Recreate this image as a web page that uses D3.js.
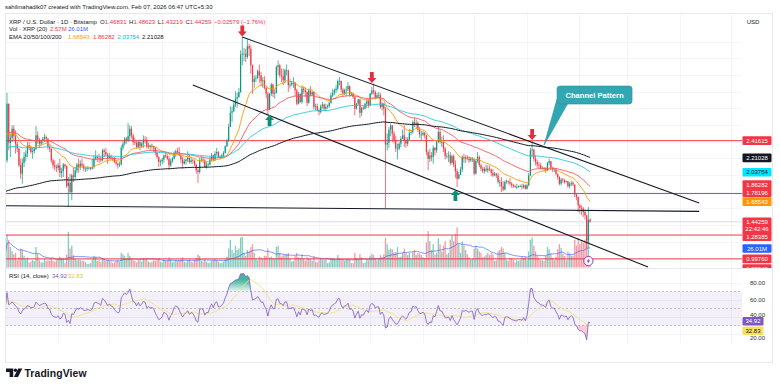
<!DOCTYPE html>
<html>
<head>
<meta charset="utf-8">
<script src="https://cdn.jsdelivr.net/npm/d3@7"></script>
<style>
html, body { margin: 0; padding: 0; background: #fff; }
svg { display: block; font-family: "Liberation Sans", Arial, sans-serif; }
</style>
</head>
<body>
<svg id="chart" width="780" height="388"></svg>
<script>
// XRP/USD daily, Bitstamp, 2025-03-01 .. 2026-02-07
const firstOpen = 2.14;
const closes = [
  2.18,2.86,2.39,2.45,2.56,2.47,2.38,2.32,2.12,2.02,2.15,2.22,2.26,2.36,2.33,2.28,2.29,2.32,2.48,2.43,2.38,2.41,2.44,2.46,2.44,2.34,2.32,2.18,2.12,2.10,2.09, // mar
  2.12,2.03,2.05,2.13,2.11,1.87,1.91,1.80,2.00,1.98,2.06,2.13,2.10,2.14,2.12,2.08,2.08,2.09,2.09,2.08,2.10,2.20,2.22,2.21,2.20,2.18,2.30,2.28,2.25,2.21, // apr
  2.23,2.21,2.20,2.16,2.14,2.12,2.13,2.33,2.38,2.44,2.42,2.47,2.56,2.48,2.40,2.39,2.34,2.40,2.35,2.38,2.43,2.42,2.34,2.36,2.34,2.35,2.33,2.27,2.22,2.16,2.17, // may
  2.19,2.24,2.23,2.20,2.12,2.17,2.20,2.27,2.29,2.28,2.24,2.19,2.14,2.17,2.19,2.21,2.16,2.18,2.17,2.13,2.06,2.04,2.18,2.19,2.18,2.10,2.13,2.13,2.19,2.24, // jun
  2.19,2.26,2.28,2.22,2.22,2.24,2.27,2.35,2.42,2.58,2.75,2.77,2.85,2.92,2.94,3.00,3.45,3.46,3.46,3.42,3.55,3.52,3.32,3.12,3.16,3.17,3.25,3.20,3.13,3.14,3.05, // jul
  2.98,2.79,2.98,3.09,2.98,2.99,3.30,3.32,3.20,3.19,3.14,3.26,3.26,3.08,3.09,3.11,3.11,3.02,2.86,2.98,2.88,3.04,3.02,3.00,2.87,3.02,2.97,3.00,2.82,2.83,2.78, // aug
  2.76,2.83,2.85,2.80,2.82,2.83,2.87,2.96,2.99,3.02,3.04,3.13,3.13,3.03,2.98,3.02,3.03,3.07,2.97,2.98,2.94,2.80,2.86,2.91,2.75,2.81,2.80,2.86,2.89,2.84, // sep
  2.98,3.02,3.00,2.94,2.96,2.96,2.82,2.86,2.80,2.37,2.39,2.55,2.60,2.50,2.42,2.32,2.32,2.38,2.44,2.48,2.42,2.38,2.43,2.51,2.52,2.64,2.62,2.63,2.55,2.49,2.49, // oct
  2.51,2.48,2.28,2.20,2.24,2.22,2.33,2.30,2.40,2.52,2.40,2.40,2.32,2.23,2.23,2.24,2.15,2.23,2.13,2.05,1.96,2.01,2.07,2.22,2.20,2.22,2.20,2.18,2.20,2.20, // nov
  2.02,2.17,2.22,2.12,2.08,2.05,2.08,2.06,2.08,2.07,2.03,2.00,2.02,2.00,1.92,1.92,1.87,1.83,1.92,1.93,1.92,1.90,1.88,1.87,1.86,1.86,1.87,1.87,1.86,1.88,1.84, // dec
  1.88,2.00,2.30,2.31,2.20,2.16,2.13,2.12,2.09,2.09,2.08,2.06,2.15,2.17,2.09,2.07,2.07,2.02,1.98,1.90,1.95,1.94,1.92,1.93,1.87,1.90,1.91,1.89,1.77,1.74,1.64, // jan
  1.61,1.60,1.56,1.52,1.22,1.468,1.44259 // feb
];
const highs = [
  2.22,2.99,2.86,2.50,2.60,2.60,2.54,2.40,2.33,2.20,2.20,2.28,2.30,2.40,2.40,2.36,2.33,2.34,2.59,2.53,2.45,2.42,2.46,2.50,2.48,2.45,2.37,2.33,2.20,2.18,2.13,
  2.15,2.20,2.09,2.15,2.14,2.12,1.98,2.02,2.02,2.09,2.10,2.15,2.20,2.18,2.20,2.14,2.10,2.11,2.10,2.10,2.20,2.24,2.30,2.24,2.26,2.22,2.32,2.32,2.33,2.27,
  2.27,2.25,2.22,2.22,2.18,2.15,2.16,2.36,2.41,2.46,2.46,2.63,2.60,2.59,2.50,2.45,2.42,2.42,2.43,2.40,2.48,2.47,2.46,2.39,2.37,2.38,2.35,2.34,2.29,2.23,2.19,
  2.21,2.25,2.28,2.26,2.23,2.20,2.22,2.29,2.31,2.33,2.34,2.26,2.22,2.20,2.20,2.29,2.25,2.21,2.20,2.19,2.14,2.08,2.21,2.23,2.22,2.20,2.16,2.15,2.22,2.27,
  2.25,2.29,2.33,2.29,2.24,2.26,2.29,2.36,2.44,2.62,2.83,2.82,2.90,3.01,2.99,3.05,3.50,3.66,3.53,3.52,3.63,3.58,3.56,3.33,3.20,3.20,3.27,3.33,3.24,3.18,3.19,
  3.06,3.00,2.99,3.11,3.10,3.03,3.32,3.38,3.34,3.28,3.28,3.28,3.33,3.27,3.16,3.13,3.18,3.12,3.04,3.00,2.98,3.08,3.07,3.05,3.01,3.04,3.07,3.01,3.00,2.86,2.86,
  2.80,2.85,2.88,2.86,2.86,2.85,2.89,2.99,3.04,3.04,3.08,3.15,3.18,3.14,3.05,3.04,3.07,3.12,3.08,3.00,2.99,2.95,2.87,2.92,2.92,2.82,2.83,2.87,2.92,2.92,
  2.99,3.06,3.10,3.02,2.99,3.00,2.99,2.88,2.87,2.82,2.50,2.58,2.62,2.60,2.53,2.47,2.38,2.40,2.47,2.55,2.60,2.46,2.46,2.56,2.55,2.66,2.69,2.67,2.65,2.58,2.53,
  2.53,2.52,2.48,2.30,2.32,2.28,2.36,2.34,2.42,2.58,2.55,2.46,2.48,2.34,2.27,2.29,2.28,2.25,2.25,2.18,2.08,2.04,2.10,2.24,2.26,2.24,2.24,2.23,2.22,2.22,
  2.20,2.19,2.28,2.24,2.14,2.10,2.10,2.13,2.12,2.12,2.08,2.08,2.04,2.03,2.03,1.95,1.98,1.93,1.94,1.95,1.94,1.97,1.92,1.90,1.89,1.90,1.88,1.89,1.90,1.90,1.89,
  1.90,2.03,2.33,2.41,2.32,2.24,2.19,2.16,2.15,2.11,2.10,2.10,2.16,2.20,2.17,2.10,2.09,2.08,2.02,1.99,1.97,1.97,1.96,1.94,1.93,1.92,1.93,1.93,1.89,1.78,1.75,
  1.66,1.64,1.62,1.59,1.52,1.62,1.48623
];
const lows = [
  2.08,2.15,2.30,2.22,2.40,2.42,2.26,2.28,2.10,1.96,1.90,2.10,2.17,2.22,2.30,2.26,2.20,2.26,2.30,2.38,2.33,2.35,2.38,2.40,2.40,2.31,2.28,2.15,2.08,2.06,2.04,
  2.06,1.98,1.97,1.98,2.08,1.85,1.62,1.78,1.70,1.92,1.95,2.03,2.03,2.06,2.09,2.05,2.04,2.05,2.07,2.06,2.07,2.08,2.18,2.16,2.15,2.16,2.17,2.22,2.23,2.14,
  2.19,2.19,2.17,2.15,2.12,2.08,2.10,2.12,2.30,2.36,2.38,2.40,2.41,2.44,2.36,2.36,2.32,2.32,2.30,2.33,2.33,2.38,2.32,2.32,2.30,2.32,2.28,2.24,2.20,2.10,2.11,
  2.13,2.15,2.21,2.18,2.07,2.10,2.15,2.19,2.22,2.25,2.23,2.15,2.08,2.13,2.13,2.16,2.14,2.14,2.14,2.11,2.02,1.91,2.02,2.16,2.15,2.09,2.08,2.11,2.12,2.17,
  2.17,2.17,2.24,2.21,2.20,2.21,2.22,2.26,2.34,2.40,2.58,2.64,2.76,2.82,2.81,2.93,2.99,3.32,3.37,3.36,3.40,3.43,3.22,2.98,3.05,3.12,3.16,3.11,3.07,3.05,3.03,
  2.93,2.72,2.78,2.95,2.94,2.92,2.98,3.20,3.17,3.12,3.08,3.10,3.20,3.00,3.04,3.07,3.05,2.95,2.84,2.85,2.87,2.86,2.98,2.94,2.83,2.86,2.95,2.95,2.79,2.78,2.77,
  2.72,2.74,2.80,2.77,2.77,2.80,2.81,2.86,2.94,2.96,2.99,3.02,3.08,3.00,2.95,2.96,2.95,3.01,2.94,2.95,2.92,2.72,2.79,2.84,2.69,2.71,2.78,2.79,2.81,2.81,
  2.83,2.96,2.97,2.91,2.92,2.92,2.80,2.78,2.72,1.61,2.30,2.33,2.47,2.40,2.38,2.28,2.19,2.30,2.34,2.43,2.34,2.33,2.35,2.42,2.48,2.50,2.58,2.56,2.52,2.45,2.42,
  2.47,2.44,2.24,2.06,2.16,2.17,2.14,2.24,2.27,2.39,2.38,2.34,2.28,2.19,2.20,2.16,2.12,2.13,2.10,1.97,1.86,1.95,2.00,2.04,2.15,2.15,2.18,2.15,2.16,2.16,
  2.00,2.01,2.15,2.10,2.05,2.03,2.02,2.04,2.03,2.05,1.99,1.98,1.99,1.97,1.90,1.86,1.80,1.81,1.82,1.90,1.89,1.88,1.85,1.85,1.85,1.84,1.85,1.86,1.83,1.84,1.83,
  1.83,1.87,1.99,2.22,2.17,2.12,2.09,2.08,2.07,2.07,2.05,2.03,2.05,2.12,2.06,2.04,2.04,2.00,1.95,1.88,1.88,1.91,1.90,1.91,1.85,1.84,1.87,1.87,1.74,1.70,1.56,
  1.54,1.52,1.50,1.47,1.12,1.19,1.43219
];
// volume in millions of XRP
const volumes = [
  20,45,38,28,22,18,20,10,14,26,24,16,11,14,7,8,10,9,28,18,10,7,7,12,9,10,9,13,9,8,10,
  12,15,13,12,6,18,49,26,30,17,12,10,11,10,9,9,7,5,5,6,11,16,14,9,10,7,13,11,9,10,
  9,8,6,7,9,10,8,20,18,16,11,20,16,12,10,9,7,10,11,8,13,11,12,8,7,8,10,9,10,13,8,
  7,11,9,9,14,11,7,8,10,9,10,11,14,8,7,10,11,8,7,10,13,18,16,9,8,10,8,6,7,9,
  10,11,10,8,6,6,8,11,15,26,38,24,20,30,24,26,41,42,20,16,24,22,28,32,20,12,10,15,14,12,16,
  16,26,14,15,13,12,28,30,20,15,17,18,18,20,12,8,9,16,20,14,13,18,12,9,14,13,12,9,16,8,7,
  10,12,10,10,11,6,7,13,12,11,10,17,12,10,11,9,11,12,11,6,6,20,13,11,18,14,6,7,11,10,
  16,19,17,12,10,13,17,14,18,41,32,24,26,25,21,21,28,14,15,20,26,20,17,20,12,21,24,17,20,19,17,
  14,13,34,50,36,24,32,18,20,40,32,22,30,36,18,20,38,44,36,46,55,32,20,36,30,24,18,14,11,12,
  26,30,26,22,20,14,15,17,20,17,20,18,9,10,22,24,28,26,20,10,9,13,13,10,7,10,9,10,15,13,15,
  10,22,38,41,30,22,16,12,10,10,9,16,28,25,19,13,10,15,25,32,27,19,16,10,22,19,16,16,38,30,40,
  32,36,34,38,39,40,2.57
];

const lastOHLC = [1.46831, 1.48623, 1.43219, 1.44259];
const lastChange = "\u22120.02579 (\u22121.76%)";
const volLegend = [2.57, 26.01];
const emaLengths = [20, 50, 100, 200];
const emaSeeds = [2.50, 2.52, 2.33, 1.80];
const emaLast = [1.68543, 1.86282, 2.03754, 2.21028];
const rsiLast = [34.92, 32.83];
const levels = [2.41615, 1.78196, 1.28385, 0.9976, 0.8824];
const gridTicks = [3.6, 3.4, 3.2, 3.0, 2.8, 2.6, 2.4, 2.2, 2.0, 1.8, 1.6, 1.4, 1.2, 1.0];
const scaleTicks = [3.6, 3.4, 3.2, 3.0, 2.8, 2.6, 1.6, 1.2];
const rsiTicks = [80, 60, 40, 20];
const countdown = "22:42:46";

// drawings: [date, price]
const channelUpper = [["2025-07-18", 3.66], ["2026-04-12", 1.668]];
const channelLower = [["2025-06-19", 3.084], ["2026-03-13", 0.90]];
const flatLine = [["2025-03-01", 1.636], ["2026-04-12", 1.568]];
const arrowsDown = [["2025-07-18", 3.665], ["2025-10-02", 3.108], ["2026-01-04", 2.424]];
const arrowsUp = [["2025-08-03", 2.724], ["2025-11-20", 1.824]];
const calloutTip = ["2026-01-11", 2.364];
const eventDate = "2026-02-06";

const INK = "#131722", UP = "#089981", DOWN = "#f23645";
const EMA_COL = ["#ff9800", "#f7525f", "#26c6da", "#131722"];
const P = { l: 6, r: 742, top: 14, mainB: 268, rsiT: 269, rsiB: 343 };

const svg = d3.select("#chart");
const pd = d3.utcParse("%Y-%m-%d");
const start = new Date(Date.UTC(2025, 2, 1));

const x = d3.scaleUtc().domain([start, new Date(Date.UTC(2026, 4, 1))]).range([5.3, 731.6]);
const y = d3.scaleLinear().domain([3.6, 1.6]).range([42, 208.7]);
const vy = d3.scaleLinear().domain([0, 100]).range([267.5, 194.5]);
const ry = d3.scaleLinear().domain([80, 20]).range([283, 334]);

const n = Math.min(closes.length, highs.length, lows.length, volumes.length);
const bars = d3.range(n).map(i => {
  const c = closes[i];
  const o = i === 0 ? firstOpen : (i === n - 1 ? lastOHLC[0] : closes[i - 1]);
  return { date: d3.utcDay.offset(start, i), o, c,
    h: Math.max(highs[i], o, c), l: Math.min(lows[i], o, c), v: volumes[i] };
});

const emas = emaLengths.map((len, k) => {
  const a = 2 / (len + 1);
  let e = emaSeeds[k];
  return bars.map(b => { e += a * (b.c - e); return { date: b.date, v: e }; });
});

let ag = 0.05, al = 0.05;
const rsi = bars.map((b, i) => {
  const ch = b.c - (i === 0 ? firstOpen : bars[i - 1].c);
  ag = (ag * 13 + Math.max(ch, 0)) / 14;
  al = (al * 13 + Math.max(-ch, 0)) / 14;
  return { date: b.date, v: 100 - 100 / (1 + ag / al) };
});
const rsiMa = rsi.map((r, i) => ({ date: r.date, v: d3.mean(rsi.slice(Math.max(0, i - 13), i + 1), d => d.v) }));
const volMa = bars.map((b, i) => ({ date: b.date, v: d3.mean(bars.slice(Math.max(0, i - 19), i + 1), d => d.v) }));

// defs
const defs = svg.append("defs");
defs.append("clipPath").attr("id", "cMain").append("rect")
  .attr("x", P.l).attr("y", P.top).attr("width", P.r - P.l).attr("height", P.mainB - P.top);
defs.append("clipPath").attr("id", "cRsi").append("rect")
  .attr("x", P.l).attr("y", P.rsiT).attr("width", P.r - P.l).attr("height", P.rsiB - P.rsiT);
defs.append("clipPath").attr("id", "cTime").append("rect")
  .attr("x", 5).attr("y", P.rsiB).attr("width", 767).attr("height", 20);
defs.append("clipPath").attr("id", "cScale").append("rect")
  .attr("x", P.r).attr("y", P.top).attr("width", 31).attr("height", P.mainB - P.top);
const gr = defs.append("linearGradient").attr("id", "obFill")
  .attr("gradientUnits", "userSpaceOnUse").attr("x1", 0).attr("x2", 0).attr("y1", ry(84)).attr("y2", ry(70));
gr.append("stop").attr("offset", 0).attr("stop-color", UP).attr("stop-opacity", 0.75);
gr.append("stop").attr("offset", 1).attr("stop-color", UP).attr("stop-opacity", 0.08);

svg.append("rect").attr("width", 780).attr("height", 388).attr("fill", "#fff");

// header
svg.append("text").attr("x", 5).attr("y", 8.8).attr("font-size", 6).attr("fill", INK)
  .text("sahilmahadik07 created with TradingView.com, Feb 07, 2026 06:47 UTC+5:30");

// frame
svg.append("rect").attr("x", 5.5).attr("y", 13.5).attr("width", 767).attr("height", 349)
  .attr("fill", "none").attr("stroke", "#e0e3eb").attr("stroke-width", 0.8);

// grid
const months = d3.utcMonths(start, new Date(Date.UTC(2026, 5, 1)));
const grid = svg.append("g").attr("stroke", "#f0f2f7").attr("stroke-width", 0.8).attr("shape-rendering", "crispEdges");
grid.append("g").attr("clip-path", "url(#cMain)").selectAll("line").data(months).join("line")
  .attr("x1", d => x(d)).attr("x2", d => x(d)).attr("y1", P.top).attr("y2", P.mainB);
grid.append("g").attr("clip-path", "url(#cRsi)").selectAll("line").data(months).join("line")
  .attr("x1", d => x(d)).attr("x2", d => x(d)).attr("y1", P.rsiT).attr("y2", P.rsiB);
grid.append("g").selectAll("line").data(gridTicks).join("line")
  .attr("x1", P.l).attr("x2", P.r).attr("y1", d => y(d)).attr("y2", d => y(d));
grid.append("g").selectAll("line").data(rsiTicks).join("line")
  .attr("x1", P.l).attr("x2", P.r).attr("y1", d => ry(d)).attr("y2", d => ry(d));

// pane separator
svg.append("line").attr("x1", P.l).attr("x2", 772).attr("y1", 268.5).attr("y2", 268.5)
  .attr("stroke", "#e0e3eb").attr("stroke-width", 0.8);

const main = svg.append("g").attr("clip-path", "url(#cMain)");

// volume
main.append("g").selectAll("rect").data(bars).join("rect")
  .attr("x", d => x(d.date) - 0.65).attr("width", 1.3)
  .attr("y", d => vy(d.v)).attr("height", d => vy(0) - vy(d.v))
  .attr("fill", d => d.c >= d.o ? "rgba(8,153,129,0.5)" : "rgba(242,54,69,0.5)");
main.append("path").datum(volMa)
  .attr("d", d3.line().x(d => x(d.date)).y(d => vy(d.v)))
  .attr("fill", "none").attr("stroke", "#2962ff").attr("stroke-width", 0.8).attr("opacity", 0.8);

// horizontal levels
main.append("g").selectAll("line").data(levels).join("line")
  .attr("x1", P.l).attr("x2", P.r).attr("y1", d => y(d)).attr("y2", d => y(d))
  .attr("stroke", DOWN).attr("stroke-width", 1);

// current price line
main.append("line").attr("x1", P.l).attr("x2", P.r)
  .attr("y1", y(lastOHLC[3])).attr("y2", y(lastOHLC[3]))
  .attr("stroke", "#d1d4dc").attr("stroke-width", 0.8);

// candles
const cg = main.append("g");
cg.selectAll("line").data(bars).join("line")
  .attr("x1", d => x(d.date)).attr("x2", d => x(d.date))
  .attr("y1", d => y(d.h)).attr("y2", d => y(d.l))
  .attr("stroke", d => d.c >= d.o ? UP : DOWN).attr("stroke-width", 0.7);
cg.selectAll("rect").data(bars).join("rect")
  .attr("x", d => x(d.date) - 0.6).attr("width", 1.2)
  .attr("y", d => y(Math.max(d.o, d.c)))
  .attr("height", d => Math.max(0.7, Math.abs(y(d.o) - y(d.c))))
  .attr("fill", d => d.c >= d.o ? UP : DOWN);

// EMAs
const ln = d3.line().x(d => x(d.date)).y(d => y(d.v));
emas.forEach((s, k) => {
  main.append("path").datum(s).attr("d", ln).attr("fill", "none")
    .attr("stroke", EMA_COL[k]).attr("stroke-width", k === 3 ? 1 : 0.9);
});

// trend lines
const seg = pts => pts.map(p => [x(pd(p[0])), y(p[1])]);
[channelUpper, channelLower, flatLine].forEach(pts => {
  const s = seg(pts);
  main.append("line").attr("x1", s[0][0]).attr("y1", s[0][1]).attr("x2", s[1][0]).attr("y2", s[1][1])
    .attr("stroke", INK).attr("stroke-width", 1.1);
});

// arrows
const downPath = "M0,0 L-4.5,-5 L-1.9,-5 L-1.9,-11 L1.9,-11 L1.9,-5 L4.5,-5 Z";
const upPath = "M0,0 L-4.5,5 L-1.9,5 L-1.9,11 L1.9,11 L1.9,5 L4.5,5 Z";
svg.append("g").selectAll("path").data(arrowsDown).join("path")
  .attr("transform", d => `translate(${x(pd(d[0]))},${y(d[1])})`).attr("d", downPath).attr("fill", "#e0303e");
svg.append("g").selectAll("path").data(arrowsUp).join("path")
  .attr("transform", d => `translate(${x(pd(d[0]))},${y(d[1])})`).attr("d", upPath).attr("fill", "#0b8f74");

// callout
const tx = x(pd(calloutTip[0])), ty = y(calloutTip[1]);
const co = svg.append("g");
co.append("path").attr("d", `M${tx + 13},${ty - 46} L${tx + 24},${ty - 42} L${tx},${ty} Z`)
  .attr("fill", "#32a6b2").attr("stroke", "#2a8f9a").attr("stroke-width", 0.6);
co.append("rect").attr("x", tx + 13).attr("y", ty - 59).attr("width", 75).attr("height", 18).attr("rx", 3)
  .attr("fill", "#32a6b2").attr("stroke", "#2a8f9a").attr("stroke-width", 0.6);
co.append("text").attr("x", tx + 50.5).attr("y", ty - 47.2).attr("text-anchor", "middle")
  .attr("font-size", 7.6).attr("font-weight", "bold").attr("fill", "#fff").text("Channel Pattern");

// event marker
const ex = x(pd(eventDate));
const ev = svg.append("g").attr("transform", `translate(${ex},${P.mainB - 7})`);
ev.append("circle").attr("r", 4.6).attr("fill", "#fff").attr("stroke", "#9c27b0").attr("stroke-width", 0.9);
ev.append("path").attr("d", "M0.9,-3 L-1.7,0.5 L-0.1,0.5 L-0.9,3 L1.7,-0.6 L0.1,-0.6 Z").attr("fill", "#9c27b0");

// legend
const leg = svg.append("g").attr("font-size", 6).attr("fill", INK);
const r2 = leg.append("text").attr("y", 23.8);
r2.append("tspan").attr("x", 9).text("XRP / U.S. Dollar \u00b7 1D \u00b7 Bitstamp");
["O", "H", "L", "C"].forEach((k, i) => {
  r2.append("tspan").attr("dx", i === 0 ? 3.2 : 2.6).text(k);
  r2.append("tspan").attr("fill", DOWN).text(lastOHLC[i].toFixed(5));
});
r2.append("tspan").attr("dx", 2.6).attr("fill", DOWN).text(lastChange);
const r3 = leg.append("text").attr("y", 31.3);
r3.append("tspan").attr("x", 9).text("Vol \u00b7 XRP (20)");
r3.append("tspan").attr("x", 50).attr("fill", DOWN).text(volLegend[0].toFixed(2) + "M");
r3.append("tspan").attr("x", 68).attr("fill", "#2962ff").text(volLegend[1].toFixed(2) + "M");
const r4 = leg.append("text").attr("y", 38.8);
r4.append("tspan").attr("x", 9).text("EMA 20/50/100/200");
emaLast.forEach((v, i) => {
  r4.append("tspan").attr("x", [68, 93, 117.5, 142][i]).attr("fill", ["#ff9800", DOWN, "#00bcd4", INK][i]).text(v.toFixed(5));
});
const r5 = leg.append("text").attr("y", 277.8);
r5.append("tspan").attr("x", 9).text("RSI (14, close)");
r5.append("tspan").attr("x", 52).attr("fill", "#7e57c2").text(rsiLast[0].toFixed(2));
r5.append("tspan").attr("x", 68).attr("fill", "#e5c53a").text(rsiLast[1].toFixed(2));

// price scale
svg.append("text").attr("x", 753).attr("y", 23.8).attr("text-anchor", "middle")
  .attr("font-size", 6).attr("fill", INK).text("USD");
const pAx = svg.append("g").attr("transform", "translate(757.5,0)").attr("clip-path", "url(#cScale)")
  .call(d3.axisRight(y).tickValues(scaleTicks).tickFormat(d3.format(".5f")).tickSize(0).tickPadding(0));
pAx.select(".domain").remove();
pAx.attr("font-size", 6).attr("font-family", null).attr("text-anchor", "middle");
pAx.selectAll("text").attr("fill", "#2a2e39");

const tags = svg.append("g").attr("clip-path", "url(#cScale)");
function tag(yc, txt, bg, fg, h) {
  h = h || 8.6;
  tags.append("rect").attr("x", 742.5).attr("y", yc - h / 2).attr("width", 29).attr("height", h)
    .attr("rx", 1).attr("fill", bg);
  tags.append("text").attr("x", 757).attr("y", yc + 2.1).attr("text-anchor", "middle")
    .attr("font-size", 6).attr("fill", fg).text(txt);
}
tag(y(levels[4]), levels[4].toFixed(5), DOWN, "#fff");
tag(y(levels[3]), levels[3].toFixed(5), DOWN, "#fff");
tag(vy(volLegend[1]), volLegend[1].toFixed(2) + "M", "#2962ff", "#fff");
tag(y(levels[2]) + 1.6, levels[2].toFixed(5), DOWN, "#fff");
tags.append("rect").attr("x", 742.5).attr("y", y(lastOHLC[3]) - 4.3).attr("width", 29).attr("height", 16)
  .attr("rx", 1).attr("fill", DOWN);
tags.append("text").attr("x", 757).attr("y", y(lastOHLC[3]) + 2.1).attr("text-anchor", "middle")
  .attr("font-size", 6).attr("fill", "#fff").text(lastOHLC[3].toFixed(5));
tags.append("text").attr("x", 757).attr("y", y(lastOHLC[3]) + 9.3).attr("text-anchor", "middle")
  .attr("font-size", 6).attr("fill", "#fff").text(countdown);
tag(y(emaLast[0]), emaLast[0].toFixed(5), "#ff9800", "#fff");
tag(y(levels[1]) - 0.8, levels[1].toFixed(5), DOWN, "#fff");
tag(y(emaLast[1]) - 2.2, emaLast[1].toFixed(5), DOWN, "#fff");
tag(y(emaLast[2]), emaLast[2].toFixed(5), "#00e5ff", INK);
tag(y(emaLast[3]), emaLast[3].toFixed(5), INK, "#fff");
tag(y(levels[0]), levels[0].toFixed(5), DOWN, "#fff");

// RSI pane
const rg = svg.append("g").attr("clip-path", "url(#cRsi)");
rg.append("rect").attr("x", P.l).attr("width", P.r - P.l).attr("y", ry(70)).attr("height", ry(30) - ry(70))
  .attr("fill", "rgba(126,87,194,0.09)");
rg.append("g").selectAll("line").data([70, 50, 30]).join("line")
  .attr("x1", P.l).attr("x2", P.r).attr("y1", d => ry(d)).attr("y2", d => ry(d))
  .attr("stroke", "#a3a6af").attr("stroke-width", 0.7).attr("stroke-dasharray", "2,2");
rg.append("path").datum(rsi)
  .attr("d", d3.area().x(d => x(d.date)).y0(ry(70)).y1(d => ry(Math.max(70, d.v))))
  .attr("fill", "url(#obFill)");
rg.append("path").datum(rsi)
  .attr("d", d3.area().x(d => x(d.date)).y0(ry(30)).y1(d => ry(Math.min(30, d.v))))
  .attr("fill", "rgba(242,54,69,0.25)");
const rl = d3.line().x(d => x(d.date)).y(d => ry(d.v));
rg.append("path").datum(rsiMa).attr("d", rl).attr("fill", "none").attr("stroke", "#f2e27a").attr("stroke-width", 0.9);
rg.append("path").datum(rsi).attr("d", rl).attr("fill", "none").attr("stroke", "#7e57c2").attr("stroke-width", 0.8);

const rAx = svg.append("g").attr("transform", "translate(757.5,0)")
  .call(d3.axisRight(ry).tickValues(rsiTicks).tickFormat(d3.format(".2f")).tickSize(0).tickPadding(0));
rAx.select(".domain").remove();
rAx.attr("font-size", 6).attr("font-family", null).attr("text-anchor", "middle");
// the two lower ticks sit partly behind the value tags, as on the scale in the picture
rAx.selectAll("text").attr("fill", "#2a2e39")
  .attr("y", d => d === 40 ? -2.8 : (d === 20 ? 3.2 : 0));
const rt = svg.append("g");
[[ry(rsiLast[1]) + 7.6, rsiLast[1], "#f7e15c", INK], [ry(rsiLast[0]), rsiLast[0], "#7e57c2", "#fff"]].forEach(t => {
  rt.append("rect").attr("x", 742.5).attr("y", t[0] - 4.2).attr("width", 21).attr("height", 8.4).attr("rx", 1).attr("fill", t[2]);
  rt.append("text").attr("x", 753).attr("y", t[0] + 2.1).attr("text-anchor", "middle")
    .attr("font-size", 6).attr("fill", t[3]).text(t[1].toFixed(2));
});

// time axis
const tAx = svg.append("g").attr("transform", "translate(0,348.6)").attr("clip-path", "url(#cTime)")
  .call(d3.axisBottom(x).tickValues(months)
    .tickFormat(d => d.getUTCMonth() === 0 ? String(d.getUTCFullYear()) : d3.utcFormat("%b")(d))
    .tickSize(0).tickPadding(0));
tAx.select(".domain").remove();
tAx.attr("font-size", 6.3).attr("font-family", null);
tAx.selectAll("text").attr("fill", "#2a2e39")
  .attr("font-weight", d => d.getUTCMonth() === 0 ? "bold" : null);

// footer logo
const logo = svg.append("g").attr("fill", INK);
logo.append("path").attr("d", "M6,368.5 h7.2 v8.6 h-3.6 v-5.2 h-3.6 z");
logo.append("circle").attr("cx", 15.4).attr("cy", 370.3).attr("r", 1.7);
logo.append("path").attr("d", "M18.2,368.5 h4.1 l-4.3,8.6 h-4.1 z");
logo.append("text").attr("x", 24.5).attr("y", 377).attr("font-size", 10.4).attr("font-weight", "bold")
  .attr("textLength", 62).text("TradingView");
</script>
</body>
</html>
